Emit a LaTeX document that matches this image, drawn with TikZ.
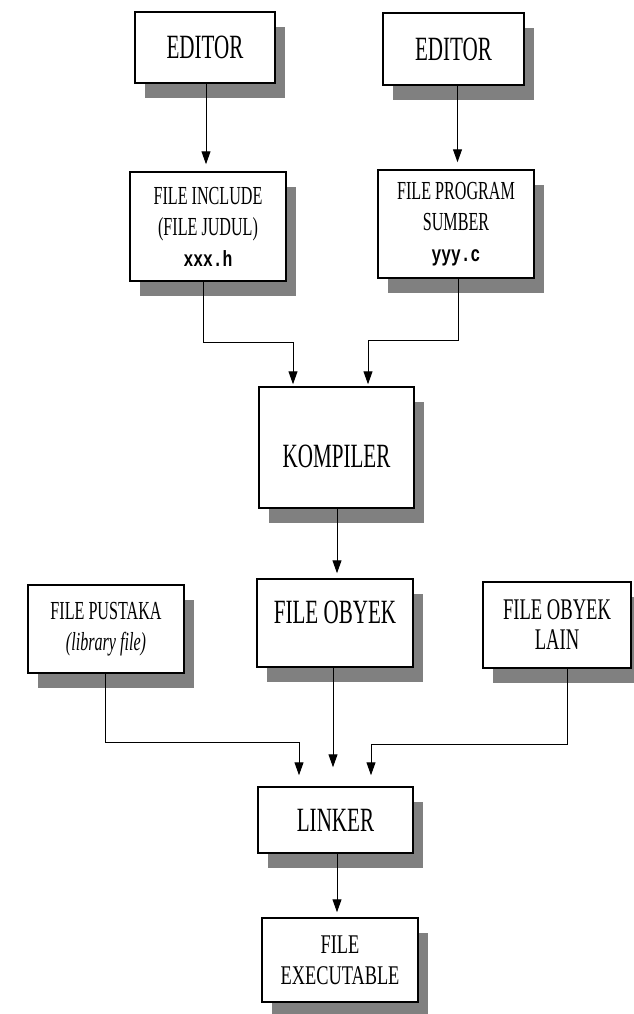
\documentclass[tikz,border=0pt]{standalone}
\usepackage{fontspec}
\setmainfont{Liberation Serif}
\newfontfamily\cond[FakeStretch=0.62]{Liberation Serif}
\newfontfamily\condw[FakeStretch=0.68]{Liberation Serif}
\newfontfamily\condmono[FakeStretch=0.74]{Liberation Mono}
\usetikzlibrary{shadows,arrows.meta}
\tikzset{
  box/.style={draw=black, line width=1.5pt, fill=white, inner sep=0pt, align=center,
    drop shadow={shadow xshift=10pt, shadow yshift=-15pt, fill=black!50, opacity=1}},
  big/.style={font=\cond\fontsize{34}{38}\selectfont},
  small/.style={font=\cond\fontsize{26}{31}\selectfont},
  arr/.style={line width=1pt, -{Triangle[length=13pt,width=9pt]}},
  wire/.style={line width=1pt}
}
\newcommand{\mono}[1]{{\condmono\bfseries\fontsize{22}{22}\selectfont #1}}
\begin{document}
\begin{tikzpicture}[x=1pt,y=-1pt]
\useasboundingbox (0,0) rectangle (633,1014);
\fill[white] (0,0) rectangle (633,1014);
% boxes
\node[box,big,minimum width=140pt,minimum height=71pt] (ed1) at (205,47.5) {EDITOR};
\node[box,big,minimum width=141pt,minimum height=72pt] (ed2) at (453.5,49) {EDITOR};
\node[box,small,minimum width=156pt,minimum height=109pt] (inc) at (208,226.5)
  {FILE INCLUDE\\(FILE JUDUL)\\\mono{xxx.h}};
\node[box,small,minimum width=156pt,minimum height=108pt] (prog) at (456,224)
  {FILE PROGRAM\\SUMBER\\\mono{yyy.c}};
\node[box,big,minimum width=155pt,minimum height=121pt,text height=40pt,text depth=0pt] (komp) at (336.5,447.5) {KOMPILER};
\node[box,small,minimum width=156pt,minimum height=88pt] (pus) at (106,629)
  {FILE PUSTAKA\\\itshape (library file)};
\node[box,big,minimum width=156pt,minimum height=88pt,text depth=22pt] (oby) at (335,623) {FILE OBYEK};
\node[box,font=\cond\fontsize{30}{30}\selectfont,minimum width=148pt,minimum height=86pt] (lain) at (557,625)
  {FILE OBYEK\\LAIN};
\node[box,big,minimum width=155pt,minimum height=66pt] (link) at (335.5,820) {LINKER};
\node[box,font=\condw\fontsize{27}{31}\selectfont,minimum width=156pt,minimum height=84pt] (exec) at (340,960)
  {FILE\\EXECUTABLE};
% connectors
\draw[arr,shorten >=7pt] ([xshift=1pt]ed1.south) -- ([xshift=1pt]ed1.south |- inc.north);
\draw[arr,shorten >=7pt] ([xshift=4pt]ed2.south) -- ([xshift=4pt]ed2.south |- prog.north);
\coordinate (k1) at (293,342);
\coordinate (k2) at (368,340);
\draw[arr,shorten >=2pt] ([xshift=-5pt]inc.south) |- (k1) -- (k1 |- komp.north);
\draw[arr,shorten >=2pt] ([xshift=2pt]prog.south) |- (k2) -- (k2 |- komp.north);
\draw[arr,shorten >=5pt] ([xshift=0.5pt]komp.south) -- ([xshift=0.5pt]komp.south |- oby.north);
\coordinate (l1) at (299,742);
\coordinate (l2) at (371,744);
\draw[arr,shorten >=11pt] ([xshift=-1pt]pus.south) |- (l1) -- (l1 |- link.north);
\draw[arr,shorten >=19pt] ([xshift=-2pt]oby.south) -- ([xshift=-2pt]oby.south |- link.north);
\draw[arr,shorten >=11pt] ([xshift=10pt]lain.south) |- (l2) -- (l2 |- link.north);
\draw[arr,shorten >=5pt] ([xshift=1.5pt]link.south) -- ([xshift=1.5pt]link.south |- exec.north);
\end{tikzpicture}
\end{document}
